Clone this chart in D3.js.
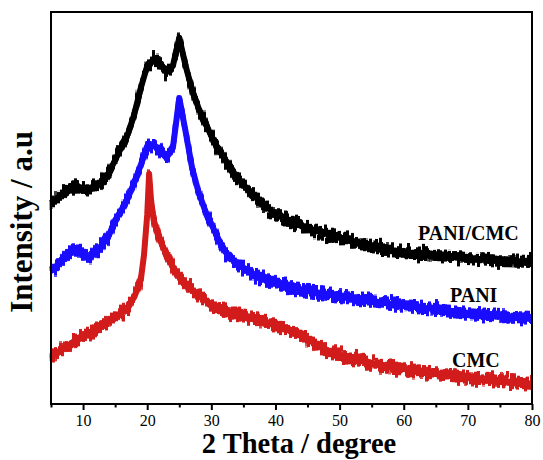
<!DOCTYPE html>
<html>
<head>
<meta charset="utf-8">
<script src="https://cdn.jsdelivr.net/npm/d3@7"></script>
<style>
  html, body { margin: 0; padding: 0; background: #fff; }
  svg { display: block; }
</style>
</head>
<body>
<svg id="chart" width="543" height="460"></svg>
<script>
// ---- data (2 Theta in degrees, intensity in arbitrary units) ----
const pcTheta = [5,6,7,8,9,10,11,12,13,14,15,16,17,18,19,20,21,22,23,24,25,26,27,28,29,30,31,32,33,34,35,36,37,38,39,40,42,44,46,48,50,52,55,58,60,65,70,75,80];
const pcIntensity = [201,206,211,215,218,216,214,218,223,231,244,257,270,290,316,338,344,341,332,338,366,338,314,296,282,268,256,246,236,227,219,212,206,200,195,190,184,178,174,170,166,162,157,153,151,148,146,143,142];

const paniTheta = [5,6,7,8,9,10,11,12,13,14,15,16,17,18,19,20,21,22,23,24,25,26,27,28,29,30,31,32,33,34,35,37,40,43,45,50,55,60,65,70,75,80];
const paniIntensity = [134,139,146,152,155,150,146,154,159,168,184,194,206,222,239,258,259,254,246,256,306,272,236,212,194,180,166,154,146,141,136,128,121,116,113,108,103,98,95,91,88,86];

const cmcTheta = [5,6,7,8,9,10,11,12,13,14,15,16,17,18,19,19.5,20,20.3,20.6,21,22,23,24,25,26,27,28,30,32,34,36,38,40,42,44,46,48,50,52,55,60,65,70,75,80];
const cmcIntensity = [47,51,56,60,65,68,71,75,78,82,87,91,97,107,124,149,189,230,204,184,164,149,137,128,121,114,109,99,94,90,87,83,79,74,69,61,54,49,46,41,35,30,26,23,20];

const seriesNames = ["PANI/CMC", "PANI", "CMC"];
const seriesColors = ["#000000", "#1a0dff", "#d21c1c"];
const xTicksMajor = [10,20,30,40,50,60,70,80];
const xTicksMinor = [5,15,25,35,45,55,65,75];
const xDomain = [5, 80];
const yDomain = [0, 392];

// ---- layout ----
const svg = d3.select("#chart");
const pLeft = 51, pRight = 532, pTop = 12, pBottom = 404;
const x = d3.scaleLinear().domain(xDomain).range([pLeft, pRight]);
const y = d3.scaleLinear().domain(yDomain).range([pBottom, pTop]);
const FONT = "'Liberation Serif','Times New Roman',serif";

// noise texture filters (visual style only)
const defs = svg.append("defs");
function makeFilter(id, seed) {
  const f = defs.append("filter")
    .attr("id", id)
    .attr("filterUnits", "userSpaceOnUse")
    .attr("x", 0).attr("y", 0).attr("width", 543).attr("height", 460)
    .attr("color-interpolation-filters", "sRGB");
  f.append("feTurbulence")
    .attr("type", "fractalNoise")
    .attr("baseFrequency", "0.6 0.015")
    .attr("numOctaves", 2)
    .attr("seed", seed)
    .attr("result", "t");
  f.append("feColorMatrix")
    .attr("in", "t")
    .attr("type", "matrix")
    .attr("values", "0 0 0 0 0.5  0 1 0 0 0  0 0 1 0 0  0 0 0 0 1")
    .attr("result", "m");
  f.append("feDisplacementMap")
    .attr("in", "SourceGraphic")
    .attr("in2", "m")
    .attr("scale", 22)
    .attr("xChannelSelector", "R")
    .attr("yChannelSelector", "G")
    .attr("result", "d");
  f.append("feMorphology")
    .attr("in", "d")
    .attr("operator", "dilate")
    .attr("radius", "1 2");
}
[[3, 41], [11, 57], [27, 73]].forEach((seeds, i) => {
  makeFilter("roughA" + i, seeds[0]);
  makeFilter("roughB" + i, seeds[1]);
});

const series = [
  {name: seriesNames[0], xs: pcTheta, ys: pcIntensity, color: seriesColors[0]},
  {name: seriesNames[1], xs: paniTheta, ys: paniIntensity, color: seriesColors[1]},
  {name: seriesNames[2], xs: cmcTheta, ys: cmcIntensity, color: seriesColors[2]}
];

const line = d3.line().x(d => x(d[0])).y(d => y(d[1]));

series.forEach((s, i) => {
  const pts = s.xs.map((v, k) => [v, s.ys[k]]);
  const g = svg.append("g");
  ["roughA", "roughB"].forEach(fid => {
    g.append("path")
      .attr("d", line(pts))
      .attr("fill", "none")
      .attr("stroke", s.color)
      .attr("stroke-width", 2)
      .attr("stroke-linejoin", "round")
      .attr("filter", "url(#" + fid + i + ")");
  });
  g.append("path")
    .attr("d", line(pts))
    .attr("fill", "none")
    .attr("stroke", s.color)
    .attr("stroke-width", 6)
    .attr("stroke-linejoin", "round");
});

// ---- frame ----
svg.append("rect")
  .attr("x", pLeft).attr("y", pTop)
  .attr("width", pRight - pLeft).attr("height", pBottom - pTop)
  .attr("fill", "none").attr("stroke", "#000").attr("stroke-width", 2);

// ---- x axis ----
const axisMajor = d3.axisBottom(x).tickValues(xTicksMajor).tickSize(6).tickPadding(5).tickFormat(d3.format("d"));
const gx = svg.append("g").attr("transform", `translate(0,${pBottom})`).call(axisMajor);
gx.select(".domain").remove();
gx.selectAll(".tick line").attr("stroke", "#000").attr("stroke-width", 2);
gx.selectAll(".tick text").attr("font-family", FONT).attr("font-size", 16).attr("fill", "#000");

const axisMinor = d3.axisBottom(x).tickValues(xTicksMinor).tickSize(3.5).tickFormat("");
const gxm = svg.append("g").attr("transform", `translate(0,${pBottom})`).call(axisMinor);
gxm.select(".domain").remove();
gxm.selectAll(".tick line").attr("stroke", "#000").attr("stroke-width", 2);

// ---- titles ----
svg.append("text")
  .attr("x", 299).attr("y", 453)
  .attr("text-anchor", "middle")
  .attr("font-family", FONT).attr("font-weight", "bold").attr("font-size", 28.5)
  .text("2 Theta / degree");

svg.append("text")
  .attr("transform", "translate(32,222) rotate(-90)")
  .attr("text-anchor", "middle")
  .attr("font-family", FONT).attr("font-weight", "bold").attr("font-size", 31)
  .text("Intensity / a.u");

// ---- series labels ----
const labelPos = [[418, 240], [450, 302], [452, 367]];
series.forEach((s, i) => {
  svg.append("text")
    .attr("x", labelPos[i][0]).attr("y", labelPos[i][1])
    .attr("font-family", FONT).attr("font-weight", "bold").attr("font-size", 20)
    .attr("fill", "#000")
    .text(s.name);
});
</script>
</body>
</html>
